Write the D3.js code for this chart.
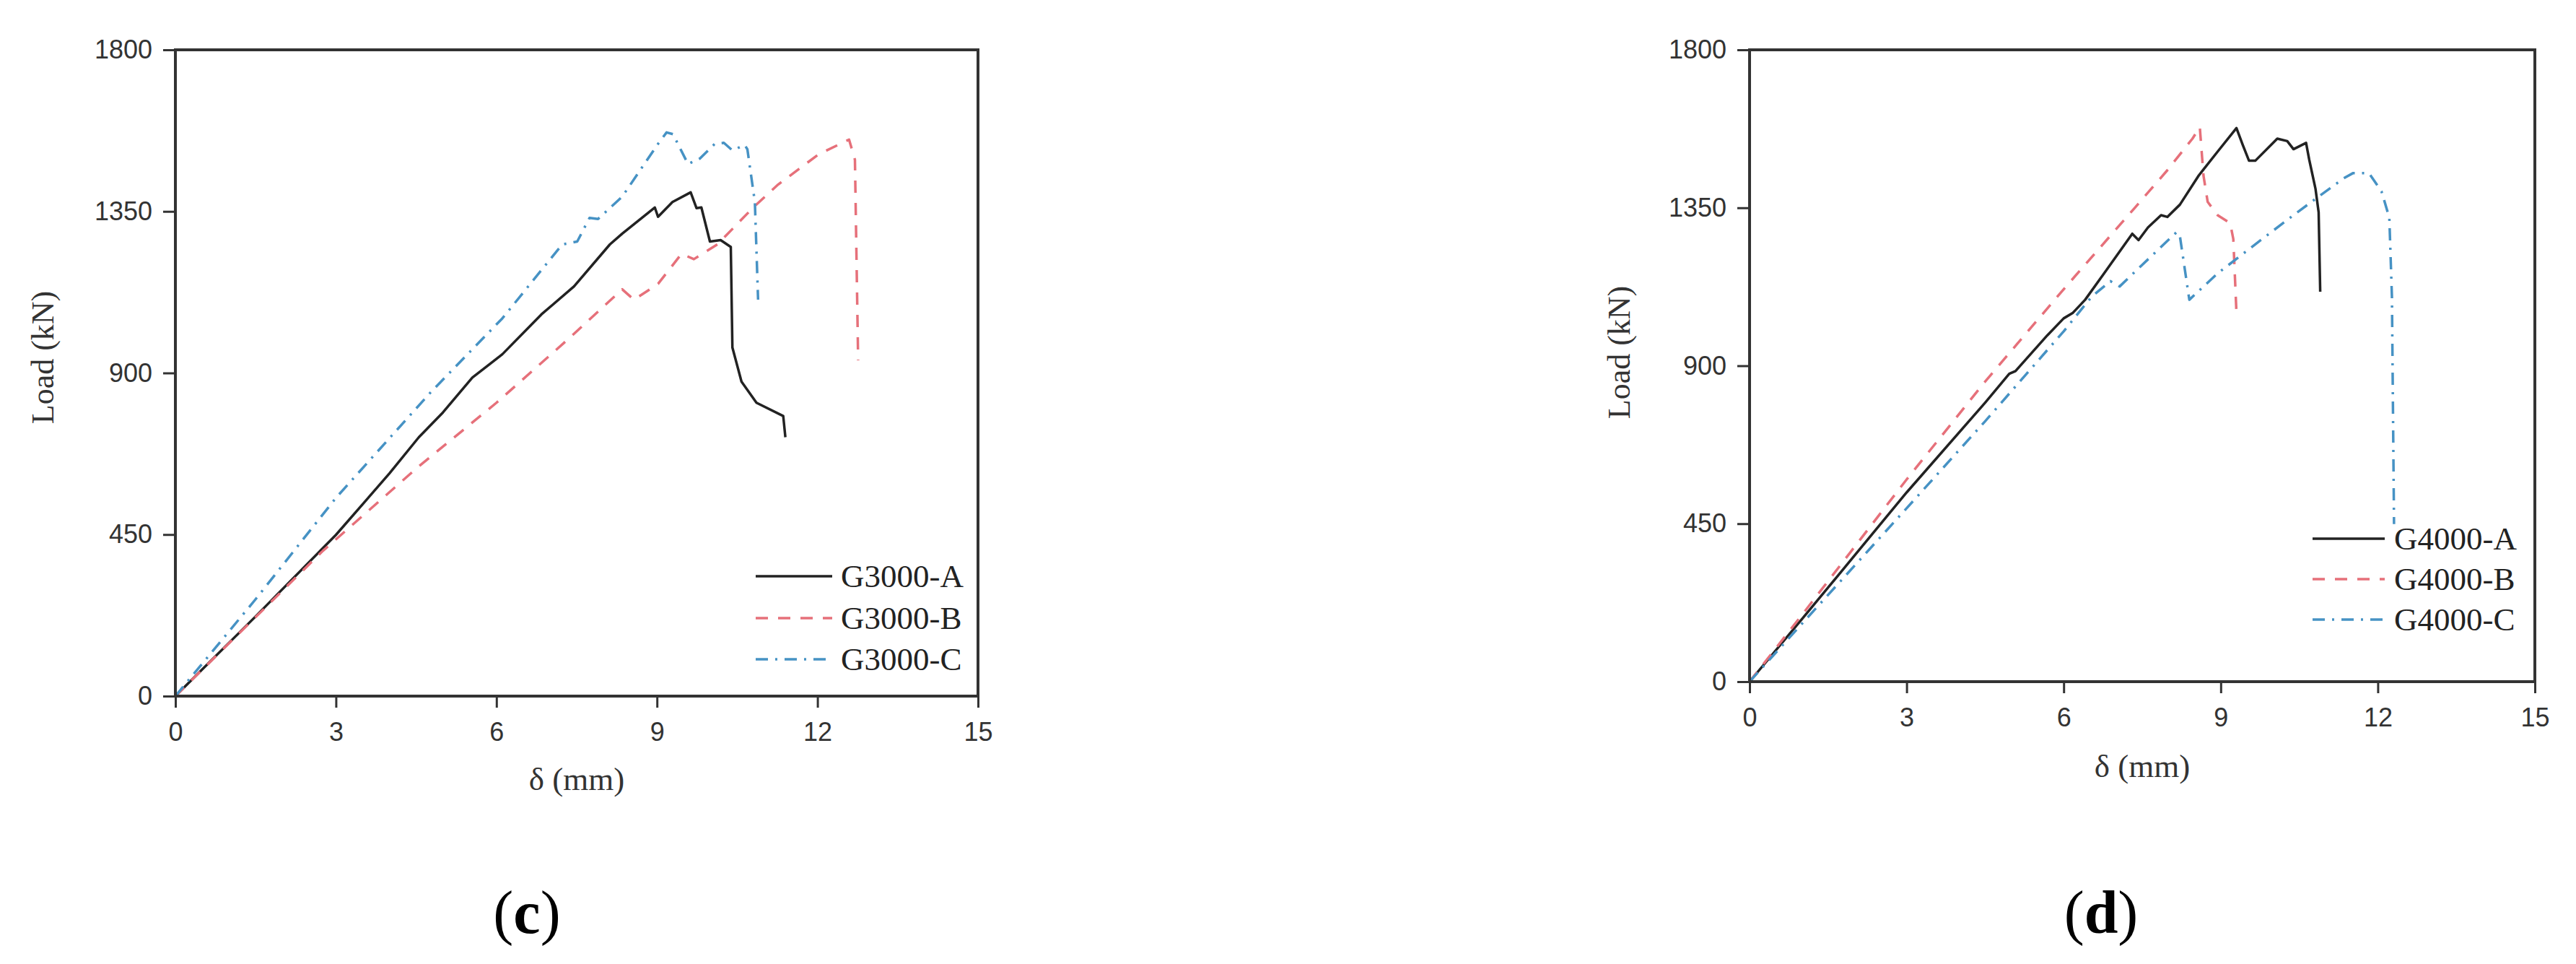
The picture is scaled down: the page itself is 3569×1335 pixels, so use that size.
<!DOCTYPE html>
<html><head><meta charset="utf-8">
<script src="https://cdn.jsdelivr.net/npm/d3@7"></script>
<style>body{margin:0;background:#fff}svg{display:block}</style>
</head><body>
<svg id="chart" width="3569" height="1335"></svg>
<script>
// ---- data ----
const xTicks = [0, 3, 6, 9, 12, 15];
const yTicks = [0, 450, 900, 1350, 1800];
const xLabel = "δ (mm)";
const yLabel = "Load (kN)";

// panel (c)
const g3000A = [[0,0],[1.5,222],[3,449],[4.0,620],[4.55,721],[5.0,790],[5.55,887],[6.11,952],[6.84,1063],[7.45,1141],[8.12,1258],[8.35,1288],[8.96,1361],[9.02,1335],[9.29,1376],[9.63,1403],[9.74,1359],[9.83,1361],[9.99,1266],[10.19,1270],[10.38,1251],[10.41,971],[10.58,876],[10.86,817],[11.36,780],[11.40,721]];
const g3000B = [[0,0],[1.5,220],[2.76,405],[4.55,640],[6.0,817],[7.34,994],[8.35,1133],[8.57,1104],[9.02,1148],[9.46,1232],[9.69,1217],[10.13,1258],[10.8,1361],[11.25,1423],[12.02,1509],[12.59,1550],[12.70,1494],[12.76,935]];
const g3000C = [[0,0],[1.5,270],[3,552],[4.77,846],[6.11,1052],[7.23,1258],[7.51,1266],[7.74,1332],[7.9,1329],[8.35,1391],[9.02,1538],[9.18,1570],[9.3,1565],[9.58,1482],[9.8,1497],[10.08,1538],[10.25,1541],[10.41,1520],[10.64,1535],[10.69,1523],[10.83,1376],[10.89,1104]];

// panel (d)
const g4000A = [[0,0],[1,178],[3,539],[4.5,795],[4.96,877],[5.08,885],[5.69,987],[6.0,1035],[6.17,1050],[6.41,1088],[6.77,1163],[7.31,1276],[7.43,1258],[7.61,1294],[7.86,1329],[7.98,1324],[8.22,1359],[8.58,1442],[8.94,1510],[9.3,1577],[9.42,1529],[9.54,1484],[9.66,1484],[10.08,1547],[10.27,1540],[10.39,1517],[10.63,1535],[10.69,1487],[10.81,1404],[10.87,1337],[10.90,1111]];
const g4000B = [[0,0],[1,190],[3,576],[4.5,855],[6.0,1118],[7.37,1352],[7.98,1457],[8.46,1547],[8.6,1580],[8.67,1442],[8.75,1367],[8.94,1329],[9.18,1306],[9.24,1261],[9.3,1051]];
const g4000C = [[0,0],[1,165],[3,494],[4.5,742],[6.0,998],[6.53,1096],[6.89,1141],[7.07,1126],[7.49,1186],[8.16,1281],[8.22,1269],[8.4,1088],[8.94,1163],[9.66,1246],[10.39,1329],[10.87,1382],[11.35,1434],[11.53,1449],[11.83,1449],[12.07,1397],[12.22,1322],[12.27,1096],[12.31,449]];

const namesC = ["G3000-A", "G3000-B", "G3000-C"];
const namesD = ["G4000-A", "G4000-B", "G4000-C"];
const captions = ["c", "d"];

// ---- styles / layout ----
const styles = [
  {stroke:"#222222", dash:null},
  {stroke:"#e6707a", dash:"17,14"},
  {stroke:"#4692c4", dash:"17,10,3,10"}
];
const panels = [
  {series:[g3000A,g3000B,g3000C], names:namesC, cap:captions[0],
   x0:243, x1:1355, y0:69, y1:964,
   leg:{lx0:1047, lx1:1153, tx:1165, ys:[798,856,913]},
   ylab:{x:74, y:495}, xlab:{y:1094}, capPos:{x:730, y:1292}},
  {series:[g4000A,g4000B,g4000C], names:namesD, cap:captions[1],
   x0:2424, x1:3512, y0:69, y1:944,
   leg:{lx0:3204, lx1:3304, tx:3317, ys:[746,802,858]},
   ylab:{x:2258, y:488}, xlab:{y:1076}, capPos:{x:2911, y:1292}}
];

const svg = d3.select("#chart");
const sans = "'Liberation Sans', Arial, Helvetica, sans-serif";
const serif = "'Liberation Serif', 'Times New Roman', Times, serif";

panels.forEach(p => {
  const x = d3.scaleLinear().domain([0,15]).range([p.x0, p.x1]);
  const y = d3.scaleLinear().domain([0,1800]).range([p.y1, p.y0]);
  const g = svg.append("g");

  // curves
  const line = d3.line().x(d => x(d[0])).y(d => y(d[1]));
  p.series.forEach((s, i) => {
    g.append("path").datum(s).attr("d", line)
      .attr("fill","none").attr("stroke", styles[i].stroke)
      .attr("stroke-width", 3.5).attr("stroke-linejoin","round")
      .attr("stroke-dasharray", styles[i].dash);
  });

  // axes
  const xa = g.append("g").attr("transform", `translate(0,${p.y1})`)
    .call(d3.axisBottom(x).tickValues(xTicks).tickSize(16).tickPadding(20).tickFormat(d3.format("d")));
  const ya = g.append("g").attr("transform", `translate(${p.x0},0)`)
    .call(d3.axisLeft(y).tickValues(yTicks).tickSize(17).tickPadding(15).tickFormat(d3.format("d")));
  [xa, ya].forEach(a => {
    a.select(".domain").remove();
    a.selectAll(".tick line").attr("stroke","#333").attr("stroke-width",3);
    a.selectAll(".tick text").attr("fill","#333").style("font-family", sans).style("font-size","36px");
  });
  // frame
  g.append("rect").attr("x", p.x0).attr("y", p.y0)
    .attr("width", p.x1 - p.x0).attr("height", p.y1 - p.y0)
    .attr("fill","none").attr("stroke","#333").attr("stroke-width",4);

  // axis titles
  g.append("text").attr("x", (p.x0 + p.x1)/2).attr("y", p.xlab.y)
    .attr("text-anchor","middle").style("font-family", serif).style("font-size","45px")
    .attr("fill","#333").text(xLabel);
  g.append("text").attr("transform", `translate(${p.ylab.x},${p.ylab.y}) rotate(-90)`)
    .attr("text-anchor","middle").style("font-family", serif).style("font-size","44px")
    .attr("fill","#333").text(yLabel);

  // legend
  p.names.forEach((n, i) => {
    const yy = p.leg.ys[i];
    g.append("line").attr("x1", p.leg.lx0).attr("x2", p.leg.lx1).attr("y1", yy).attr("y2", yy)
      .attr("stroke", styles[i].stroke).attr("stroke-width", 3.5)
      .attr("stroke-dasharray", styles[i].dash);
    g.append("text").attr("x", p.leg.tx).attr("y", yy + 15)
      .style("font-family", serif).style("font-size","45px").attr("fill","#222").text(n);
  });

  // caption
  const t = svg.append("text").attr("x", p.capPos.x).attr("y", p.capPos.y)
    .attr("text-anchor","middle").style("font-family", serif).style("font-size","84px").attr("fill","#000");
  t.append("tspan").text("(");
  t.append("tspan").style("font-weight","bold").text(p.cap);
  t.append("tspan").text(")");
});
</script>
</body></html>
